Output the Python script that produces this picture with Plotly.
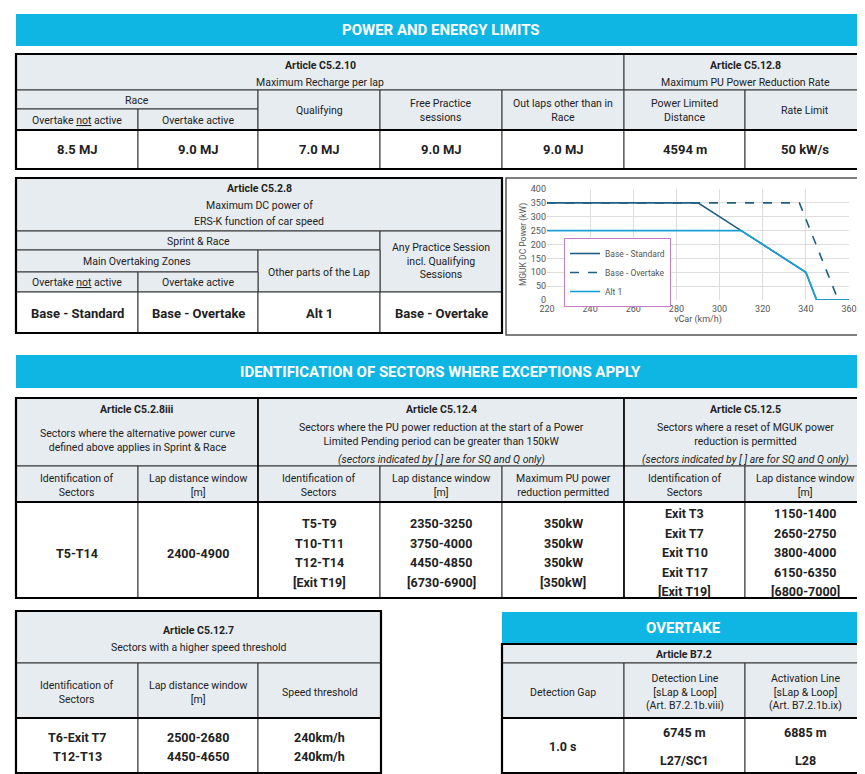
import plotly.graph_objects as go

FONT = "Roboto"
BANNER = "#0FB5E3"
HEAD = "#E7ECF0"

# chart data (MGUK DC power vs car speed)
std_speed = [220, 290, 310, 340, 345, 360]
std_power = [350, 350, 250, 100, 0, 0]
ovt_speed = [220, 337, 355]
ovt_power = [350, 350, 0]
alt_speed = [220, 310, 340, 345, 360]
alt_power = [250, 250, 100, 0, 0]

# table texts
recharge_cols = ["Qualifying", "Free Practice<br>sessions", "Out laps other than in<br>Race"]
recharge_vals = ["8.5 MJ", "9.0 MJ", "7.0 MJ", "9.0 MJ", "9.0 MJ"]
rate_cols = ["Power Limited<br>Distance", "Rate Limit"]
rate_vals = ["4594 m", "50 kW/s"]
dc_vals = ["Base - Standard", "Base - Overtake", "Alt 1", "Base - Overtake"]
alt_sectors = ["T5-T14"]
alt_windows = ["2400-4900"]
red_sectors = ["T5-T9", "T10-T11", "T12-T14", "[Exit T19]"]
red_windows = ["2350-3250", "3750-4000", "4450-4850", "[6730-6900]"]
red_power = ["350kW", "350kW", "350kW", "[350kW]"]
reset_sectors = ["Exit T3", "Exit T7", "Exit T10", "Exit T17", "[Exit T19]"]
reset_windows = ["1150-1400", "2650-2750", "3800-4000", "6150-6350", "[6800-7000]"]
speed_sectors = ["T6-Exit T7", "T12-T13"]
speed_windows = ["2500-2680", "4450-4650"]
speed_thresh = ["240km/h", "240km/h"]
overtake_gap = "1.0 s"
detection = ["6745 m", "L27/SC1"]
activation = ["6885 m", "L28"]

fig = go.Figure()
shapes = []
notes = []


def cell(x0, y0, x1, y1, fill="white"):
    shapes.append(dict(type="rect", x0=x0, y0=y0, x1=x1, y1=y1, xref="x", yref="y",
                       fillcolor=fill, line=dict(color="#333333", width=1), layer="below"))


def box(x0, y0, x1, y1, color="black", width=2.2):
    shapes.append(dict(type="rect", x0=x0, y0=y0, x1=x1, y1=y1, xref="x", yref="y",
                       line=dict(color=color, width=width)))


def hline(x0, x1, y):
    shapes.append(dict(type="line", x0=x0, x1=x1, y0=y, y1=y, xref="x", yref="y",
                       line=dict(color="black", width=2)))


def txt(x, y, s, size=10.5, bold=False, color="#222222"):
    if bold:
        s = f"<b>{s}</b>"
    notes.append(dict(x=x, y=y, xref="x", yref="y", text=s, showarrow=False,
                      font=dict(family=FONT, size=size, color=color)))


def banner(x0, y0, x1, y1, s):
    shapes.append(dict(type="rect", x0=x0, y0=y0, x1=x1, y1=y1, xref="x", yref="y",
                       fillcolor=BANNER, line=dict(width=0), layer="below"))
    txt((x0 + x1) / 2, (y0 + y1) / 2, s, 15, True, "white")


NOT = 'Overtake <span style="text-decoration:underline">not</span> active'

# --- power and energy limits
banner(8, 6, 857, 38, "POWER AND ENERGY LIMITS")
cell(8, 46, 616, 82, HEAD)
cell(616, 46, 857, 82, HEAD)
txt(312, 57, "Article C5.2.10", 10.5, True)
txt(312, 74, "Maximum Recharge per lap")
txt(737, 57, "Article C5.12.8", 10.5, True)
txt(737, 74, "Maximum PU Power Reduction Rate")
cell(8, 82, 250, 101, HEAD)
txt(129, 92, "Race")
cell(8, 101, 130, 122, HEAD)
cell(130, 101, 250, 122, HEAD)
txt(69, 112, NOT)
txt(190, 112, "Overtake active")
cols = [250, 372, 494, 616, 737, 857]
for i, s in enumerate(recharge_cols + rate_cols):
    cell(cols[i], 82, cols[i + 1], 122, HEAD)
    txt((cols[i] + cols[i + 1]) / 2, 102, s)
vcols = [8, 130, 250, 372, 494, 616, 737, 857]
for i, s in enumerate(recharge_vals + rate_vals):
    cell(vcols[i], 122, vcols[i + 1], 161)
    txt((vcols[i] + vcols[i + 1]) / 2, 141, s, 13, True)
box(8, 46, 857, 161)
hline(8, 857, 122)

# --- DC power table
cell(8, 170, 494, 223, HEAD)
txt(251, 180, "Article C5.2.8", 10.5, True)
txt(251, 197, "Maximum DC power of")
txt(251, 213, "ERS-K function of car speed")
cell(8, 223, 372, 242, HEAD)
txt(190, 233, "Sprint & Race")
cell(372, 223, 494, 284, HEAD)
txt(433, 253, "Any Practice Session<br>incl. Qualifying<br>Sessions")
cell(8, 242, 250, 264, HEAD)
txt(129, 253, "Main Overtaking Zones")
cell(250, 242, 372, 284, HEAD)
txt(311, 264, "Other parts of the Lap")
cell(8, 264, 130, 284, HEAD)
cell(130, 264, 250, 284, HEAD)
txt(69, 274, NOT)
txt(190, 274, "Overtake active")
dcols = [8, 130, 250, 372, 494]
for i, s in enumerate(dc_vals):
    cell(dcols[i], 284, dcols[i + 1], 325)
    txt((dcols[i] + dcols[i + 1]) / 2, 305, s, 13, True)
box(8, 170, 494, 325)
box(498, 170, 857, 327, "#555555", 1.5)

# --- sectors
banner(8, 347, 857, 380, "IDENTIFICATION OF SECTORS WHERE EXCEPTIONS APPLY")
cell(8, 390, 250, 458, HEAD)
txt(129, 401, "Article C5.2.8iii", 10.5, True)
txt(129, 432, "Sectors where the alternative power curve<br>defined above applies in Sprint & Race")
cell(250, 390, 616, 458, HEAD)
txt(433, 401, "Article C5.12.4", 10.5, True)
txt(433, 426, "Sectors where the PU power reduction at the start of a Power<br>Limited Pending period can be greater than 150kW")
txt(433, 451, "<i>(sectors indicated by [ ] are for SQ and Q only)</i>")
cell(616, 390, 857, 458, HEAD)
txt(737, 401, "Article C5.12.5", 10.5, True)
txt(737, 426, "Sectors where a reset of MGUK power<br>reduction is permitted")
txt(737, 451, "<i>(sectors indicated by [ ] are for SQ and Q only)</i>")
heads = ["Identification of<br>Sectors", "Lap distance window<br>[m]",
         "Identification of<br>Sectors", "Lap distance window<br>[m]",
         "Maximum PU power<br>reduction permitted",
         "Identification of<br>Sectors", "Lap distance window<br>[m]"]
for i, s in enumerate(heads):
    cell(vcols[i], 458, vcols[i + 1], 494, HEAD)
    txt((vcols[i] + vcols[i + 1]) / 2, 477, s)
ys4 = [515, 535, 554, 574]
ys5 = [505, 525, 544, 564, 583]
groups = [(alt_sectors, [545]), (alt_windows, [545]),
          (red_sectors, ys4), (red_windows, ys4), (red_power, ys4),
          (reset_sectors, ys5), (reset_windows, ys5)]
for i, (vals, ys) in enumerate(groups):
    cell(vcols[i], 494, vcols[i + 1], 590)
    for v, y in zip(vals, ys):
        txt((vcols[i] + vcols[i + 1]) / 2, y, v, 12.5, True)
box(8, 390, 857, 590)
box(250, 390, 616, 590, "black", 1.5)
hline(8, 857, 494)

# --- speed threshold
cell(8, 603, 373, 655, HEAD)
txt(190, 622, "Article C5.12.7", 10.5, True)
txt(190, 639, "Sectors with a higher speed threshold")
scols = [8, 130, 250, 373]
for i, s in enumerate(["Identification of<br>Sectors", "Lap distance window<br>[m]", "Speed threshold"]):
    cell(scols[i], 655, scols[i + 1], 710, HEAD)
    txt((scols[i] + scols[i + 1]) / 2, 684, s)
for i, vals in enumerate([speed_sectors, speed_windows, speed_thresh]):
    cell(scols[i], 710, scols[i + 1], 765)
    for v, y in zip(vals, [729, 748]):
        txt((scols[i] + scols[i + 1]) / 2, y, v, 12.5, True)
box(8, 603, 373, 765)
hline(8, 373, 710)

# --- overtake
banner(494, 604, 857, 636, "OVERTAKE")
cell(494, 636, 857, 655, HEAD)
txt(676, 646, "Article B7.2", 10.5, True)
ocols = [494, 616, 737, 857]
for i, s in enumerate(["Detection Gap",
                       "Detection Line<br>[sLap & Loop]<br>(Art. B7.2.1b.viii)",
                       "Activation Line<br>[sLap & Loop]<br>(Art. B7.2.1b.ix)"]):
    cell(ocols[i], 655, ocols[i + 1], 710, HEAD)
    txt((ocols[i] + ocols[i + 1]) / 2, 684, s)
cell(494, 710, 616, 765)
txt(555, 738, overtake_gap, 12.5, True)
for i, vals in enumerate([detection, activation]):
    cell(ocols[i + 1], 710, ocols[i + 2], 765)
    for v, y in zip(vals, [724, 752]):
        txt((ocols[i + 1] + ocols[i + 2]) / 2, y, v, 12.5, True)
box(494, 636, 857, 765)
hline(494, 857, 710)

# --- line chart
fig.add_trace(go.Scatter(x=std_speed, y=std_power, mode="lines", name="Base - Standard",
                         line=dict(color="#1F5F82", width=1.6), xaxis="x2", yaxis="y2"))
fig.add_trace(go.Scatter(x=ovt_speed, y=ovt_power, mode="lines", name="Base - Overtake",
                         line=dict(color="#1F5F82", width=1.6, dash="dash"), xaxis="x2", yaxis="y2"))
fig.add_trace(go.Scatter(x=alt_speed, y=alt_power, mode="lines", name="Alt 1",
                         line=dict(color="#1AA0D8", width=1.6), xaxis="x2", yaxis="y2"))

axfont = dict(family=FONT, size=9, color="#555555")
fig.update_layout(
    width=865, height=774, margin=dict(l=0, r=0, t=0, b=0, autoexpand=False),
    paper_bgcolor="white", plot_bgcolor="rgba(0,0,0,0)",
    xaxis=dict(range=[0, 865], visible=False, domain=[0, 1], automargin=False),
    yaxis=dict(range=[774, 0], visible=False, domain=[0, 1], automargin=False),
    xaxis2=dict(domain=[539 / 865, 841 / 865], anchor="y2", range=[220, 360], dtick=20,
                showgrid=True, gridcolor="#DDDDDD", zeroline=False, automargin=False,
                tickfont=axfont, ticks="", ticklabelstandoff=2,
                title=dict(text="vCar (km/h)", font=axfont, standoff=2)),
    yaxis2=dict(domain=[1 - 292 / 774, 1 - 181 / 774], anchor="x2", range=[0, 400], dtick=50,
                showgrid=True, gridcolor="#DDDDDD", zeroline=False, automargin=False,
                tickfont=axfont, ticks="",
                title=dict(text="MGUK DC Power (kW)", font=dict(family=FONT, size=8.5, color="#555555"),
                           standoff=2)),
    legend=dict(x=556 / 865, y=1 - 230 / 774, xanchor="left", yanchor="top",
                bgcolor="white", bordercolor="#C47CC4", borderwidth=1,
                font=dict(family=FONT, size=8.5, color="#555555"), tracegroupgap=0,
                itemwidth=30),
    shapes=shapes, annotations=notes,
)
fig.write_html("out.html")
